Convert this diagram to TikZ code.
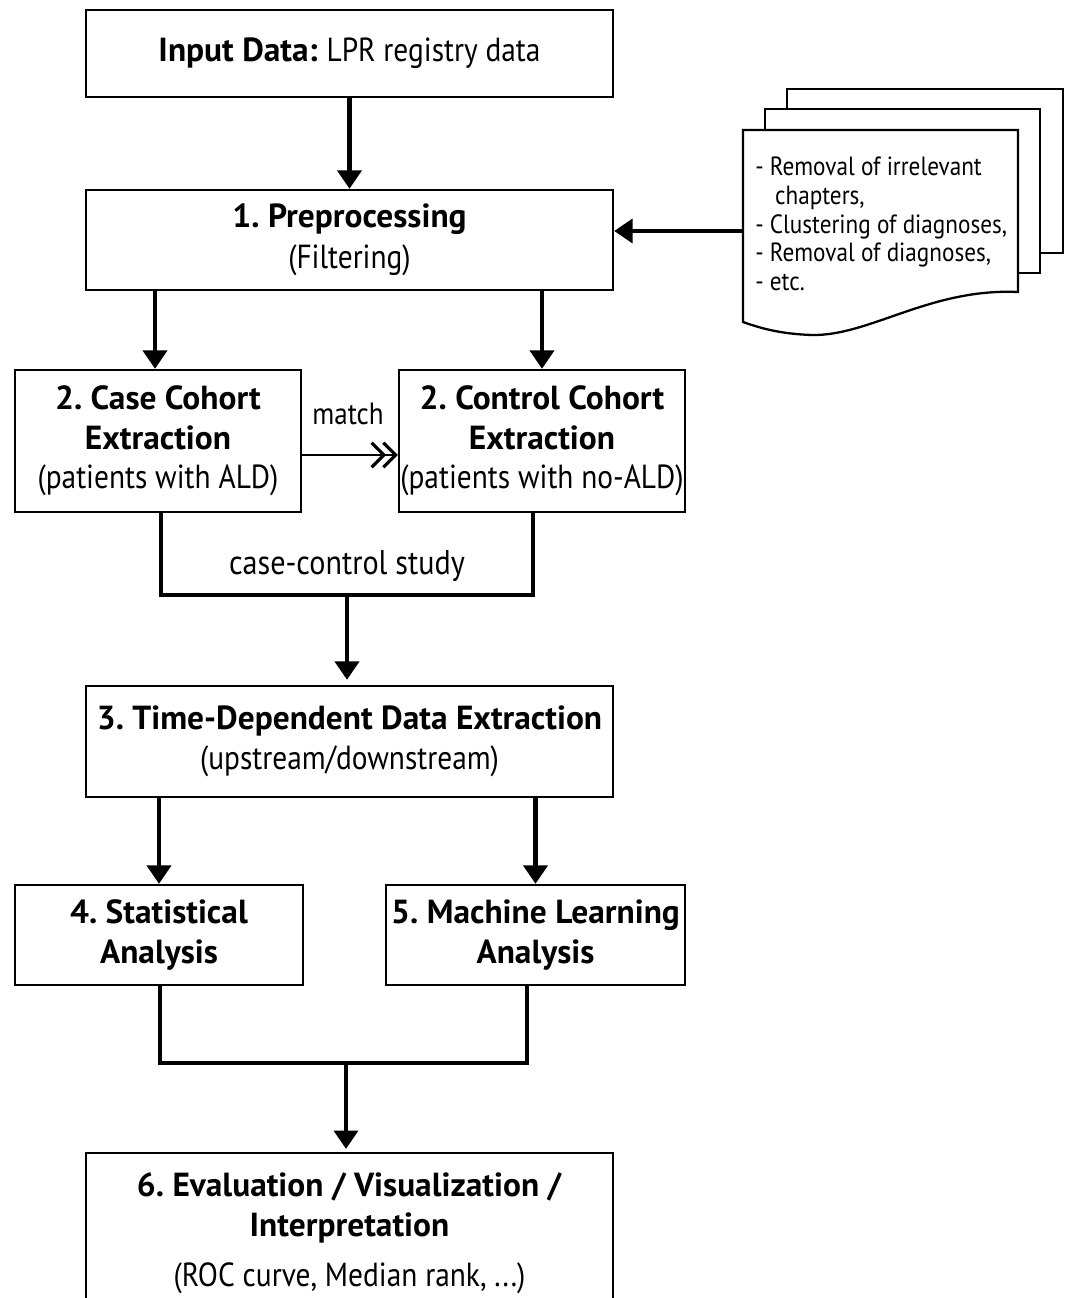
\documentclass[tikz,border=0pt]{standalone}
\usepackage{fontspec}
\setmainfont{PT Sans}
\newfontfamily\nrw[FakeStretch=0.88]{PT Sans}
\usetikzlibrary{arrows.meta,calc}
\frenchspacing

\begin{document}
\begin{tikzpicture}[
    box/.style={draw, line width=1.3pt, align=center, inner sep=0pt,
        font=\fontsize{19}{22.5}\selectfont},
    flow/.style={line width=2.7pt, -{Triangle[length=10.5pt,width=13.5pt]}},
    link/.style={line width=2.7pt},
    page/.style={draw, line width=1.3pt, fill=white}
]
\useasboundingbox (0,0) rectangle (21.36,-25.96);

% main column
\node[box, minimum width=10.54cm, minimum height=1.74cm] (input) at (6.99,-1.07)
    {\textbf{Input Data:} {\nrw LPR registry data}};
\node[box, minimum width=10.54cm, minimum height=2cm] (prep) at (6.99,-4.8)
    {\textbf{1. Preprocessing}\\[1pt] {\nrw (Filtering)}};
\node[box, minimum width=5.72cm, minimum height=2.84cm] (case) at (3.16,-8.82)
    {\textbf{2. Case Cohort}\\ \textbf{Extraction}\\ {\nrw (patients with ALD)}};
\node[box, minimum width=5.72cm, minimum height=2.84cm] (ctrl) at (10.84,-8.82)
    {\textbf{2. Control Cohort}\\ \textbf{Extraction}\\ {\nrw (patients with no-ALD)}};
\node[box, minimum width=10.54cm, minimum height=2.22cm] (time) at (6.99,-14.83)
    {\textbf{3. Time-Dependent Data Extraction}\\ {\nrw (upstream/downstream)}};
\node[box, minimum width=5.76cm, minimum height=2cm] (stat) at (3.18,-18.7)
    {\textbf{4. Statistical}\\ \textbf{Analysis}};
\node[box, minimum width=5.98cm, minimum height=2cm] (ml) at (10.71,-18.7)
    {\textbf{5. Machine Learning}\\ \textbf{Analysis}};
\node[box, minimum width=10.54cm, minimum height=3.2cm, anchor=north] (eval) at (6.99,-23.04)
    {\textbf{6. Evaluation / Visualization /}\\ \textbf{Interpretation}\\[6pt] {\nrw (ROC curve, Median rank, ...)}};

% document stack
\draw[page] (15.74,-1.78) rectangle (21.26,-5.06);
\draw[page] (15.3,-2.18) rectangle (20.8,-5.46);
\draw[page] (14.86,-2.6) -- (20.36,-2.6) -- (20.36,-5.84)
    .. controls (18.6,-5.76) and (17.4,-6.72) .. (16.24,-6.7)
    .. controls (15.6,-6.68) and (15.2,-6.56) .. (14.86,-6.44) -- cycle;
\node[anchor=north west, align=left, inner sep=0pt,
    font=\nrw\fontsize{15}{16.5}\selectfont] (notes) at (15.1,-3.12)
    {- Removal of irrelevant\\ \hspace*{0.75em}chapters,\\ - Clustering of diagnoses,\\
     - Removal of diagnoses,\\ - etc.};
\coordinate (docin) at (14.86,-4.62);

% connectors
\draw[flow] (input) -- (prep);
\draw[flow] (docin) -- (docin -| prep.east);
\draw[flow] ([xshift=-0.06cm]prep.south -| case.north) -- ([xshift=-0.06cm]case.north);
\draw[flow] (prep.south -| ctrl.north) -- (ctrl.north);
\draw[line width=1pt, -{Straight Barb[length=7pt,width=14pt,line width=1.8pt,sep=-2.5pt]
    Straight Barb[length=7pt,width=14pt,line width=1.8pt]}]
    ([yshift=-0.28cm]case.east) -- ([yshift=-0.28cm]case.east -| ctrl.west);
\node[font=\nrw\fontsize{17.5}{20}\selectfont] (match) at (6.96,-8.28) {match};

\coordinate (join1) at (6.94,-11.9);
\draw[link] ([xshift=0.06cm]case.south) |- (join1) -| ([xshift=-0.18cm]ctrl.south);
\node[font=\nrw\fontsize{19.5}{22}\selectfont] (study) at (6.94,-11.32) {case-control study};
\draw[flow] (join1) -- ([yshift=0.1cm]join1 |- time.north);

\draw[flow] (time.south -| stat.north) -- (stat.north);
\draw[flow] (time.south -| ml.north) -- (ml.north);

\coordinate (join2) at (6.92,-21.26);
\draw[link] ([xshift=0.02cm]stat.south) |- (join2) -| ([xshift=-0.17cm]ml.south);
\draw[flow] (join2) -- ([yshift=0.06cm]join2 |- eval.north);

\end{tikzpicture}
\end{document}
